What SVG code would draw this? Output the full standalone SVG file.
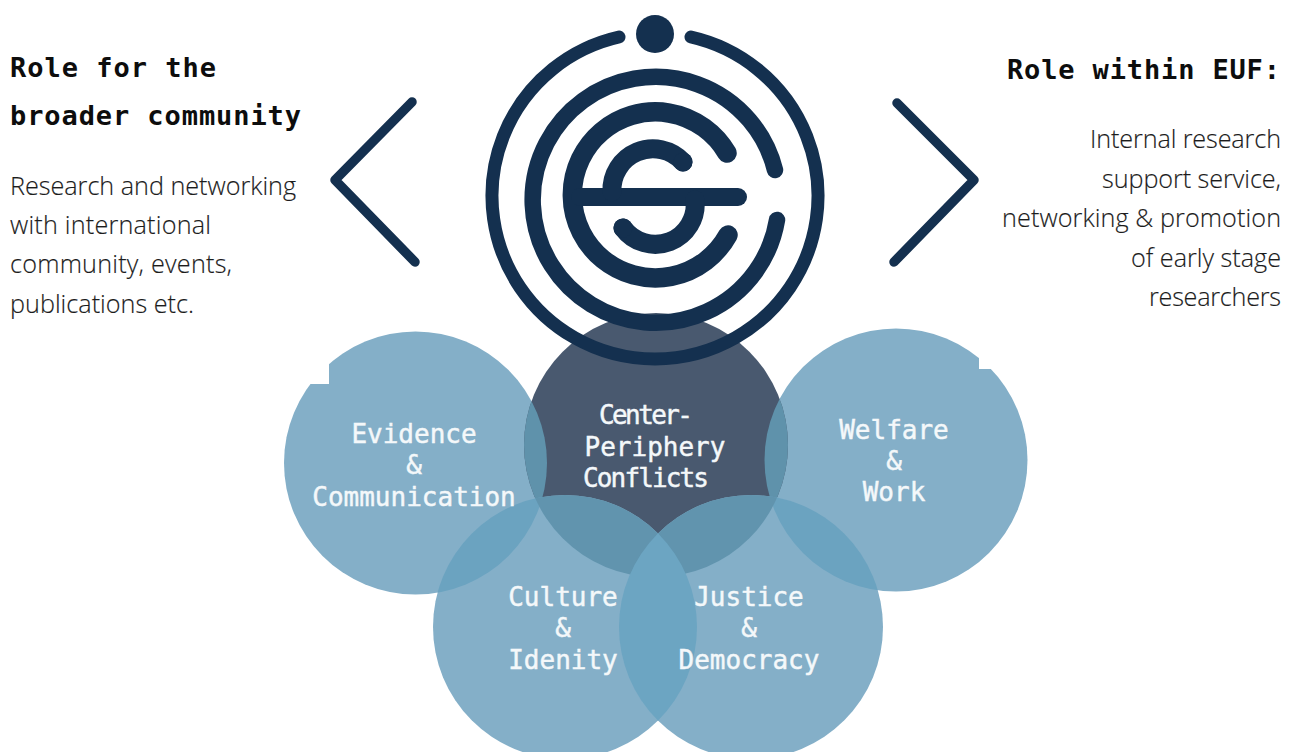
<svg xmlns="http://www.w3.org/2000/svg" width="1296" height="752" viewBox="0 0 1296 752">
<style>
.h{font-family:"DejaVu Sans Mono","Liberation Mono",monospace;font-weight:700;font-size:27px;fill:#0d0d0d}
.b{font-family:"Open Sans","Noto Sans",sans-serif;font-weight:300;font-size:25.2px;fill:#1c1c1c;stroke:#1c1c1c;stroke-width:.15}
.c{font-family:"DejaVu Sans Mono","Liberation Mono",monospace;font-size:26px;fill:#f4f8fa;stroke:#f4f8fa;stroke-width:.45;text-anchor:middle}
.logo{fill:none;stroke:#14304f;stroke-linecap:round}
</style>
<defs>
<clipPath id="cL"><circle cx="415.5" cy="463" r="131.5"/></clipPath>
<clipPath id="cC"><circle cx="656" cy="445" r="132"/></clipPath>
<clipPath id="cR"><circle cx="896" cy="460" r="131.5"/></clipPath>
<clipPath id="cA"><circle cx="565" cy="627" r="132"/></clipPath>
</defs>
<rect width="1296" height="752" fill="#fff"/>
<g id="circles">
<circle id="evidence" cx="415.5" cy="463" r="131.5" fill="#84afc8"/>
<circle id="welfare" cx="896" cy="460" r="131.5" fill="#84afc8"/>
<circle id="center" cx="656" cy="445" r="132" fill="#49596f"/>
<circle id="culture" cx="565" cy="627" r="132" fill="#84afc8"/>
<circle id="justice" cx="751" cy="627" r="132" fill="#84afc8"/>
<g clip-path="url(#cL)"><circle cx="656" cy="445" r="132" fill="#5f92ab"/><circle cx="565" cy="627" r="132" fill="#6ba3c0"/></g>
<g clip-path="url(#cR)"><circle cx="656" cy="445" r="132" fill="#5f92ab"/><circle cx="751" cy="627" r="132" fill="#6ba3c0"/></g>
<g clip-path="url(#cC)"><circle cx="565" cy="627" r="132" fill="#6194ae"/><circle cx="751" cy="627" r="132" fill="#6194ae"/></g>
<g clip-path="url(#cA)"><circle cx="751" cy="627" r="132" fill="#6ca5c2"/></g>
</g>
<rect x="0" y="0" width="329" height="384" fill="#fff"/>
<rect x="979" y="0" width="317" height="369" fill="#fff"/>
<g id="connectors" fill="none" stroke="#14304f" stroke-width="9.5" stroke-linecap="round" stroke-linejoin="round">
<path d="M412 102L335 180L415 262"/>
<path d="M897 103L974 180L894 262"/>
</g>
<g id="logo">
<circle cx="655" cy="34" r="19" fill="#14304f"/>
<path class="logo" stroke-width="13" d="M619 37A163 163 0 1 0 691 37"/>
<path class="logo" stroke-width="16.5" d="M775 170A123 123 0 1 0 777 220"/>
<path class="logo" stroke-width="19.5" d="M727 153A83 83 0 1 0 728 235"/>
<path class="logo" stroke-width="18" d="M580 197H738"/>
<path class="logo" stroke-width="19" stroke-linecap="butt" d="M612 192A41 41 0 0 1 683 162"/>
<circle cx="683" cy="162" r="9.5" fill="#14304f"/>
<path class="logo" stroke-width="19" stroke-linecap="butt" d="M695 200A40 40 0 0 1 623 228"/>
<circle cx="623" cy="228" r="9.5" fill="#14304f"/>
</g>
<g id="left-text">
<text class="h" x="10" y="77" textLength="206">Role for the</text>
<text class="h" x="10" y="125" textLength="291">broader community</text>
<text class="b" x="10" y="195" textLength="286">Research and networking</text>
<text class="b" x="10" y="234" textLength="201">with international</text>
<text class="b" x="10" y="273" textLength="222">community, events,</text>
<text class="b" x="10" y="313" textLength="184">publications etc.</text>
</g>
<g id="right-text">
<text class="h" x="1007" y="79" textLength="273">Role within EUF:</text>
<g text-anchor="end">
<text class="b" x="1281" y="148" textLength="191">Internal research</text>
<text class="b" x="1281" y="188" textLength="179">support service,</text>
<text class="b" x="1281" y="227" textLength="279">networking &amp; promotion</text>
<text class="b" x="1281" y="267" textLength="150">of early stage</text>
<text class="b" x="1281" y="306" textLength="132">researchers</text>
</g>
</g>
<g id="label-evidence"><text class="c" x="414" y="443">Evidence</text><text class="c" x="414" y="474">&amp;</text><text class="c" x="414" y="506">Communication</text></g>
<g id="label-center"><text class="c" x="646" y="424" textLength="94">Center-</text><text class="c" x="655" y="456">Periphery</text><text class="c" x="646" y="487" textLength="126">Conflicts</text></g>
<g id="label-welfare"><text class="c" x="894" y="439">Welfare</text><text class="c" x="894" y="470">&amp;</text><text class="c" x="894" y="501">Work</text></g>
<g id="label-culture"><text class="c" x="563" y="606">Culture</text><text class="c" x="563" y="637">&amp;</text><text class="c" x="563" y="669">Idenity</text></g>
<g id="label-justice"><text class="c" x="749" y="606">Justice</text><text class="c" x="749" y="637">&amp;</text><text class="c" x="749" y="669">Democracy</text></g>
</svg>
